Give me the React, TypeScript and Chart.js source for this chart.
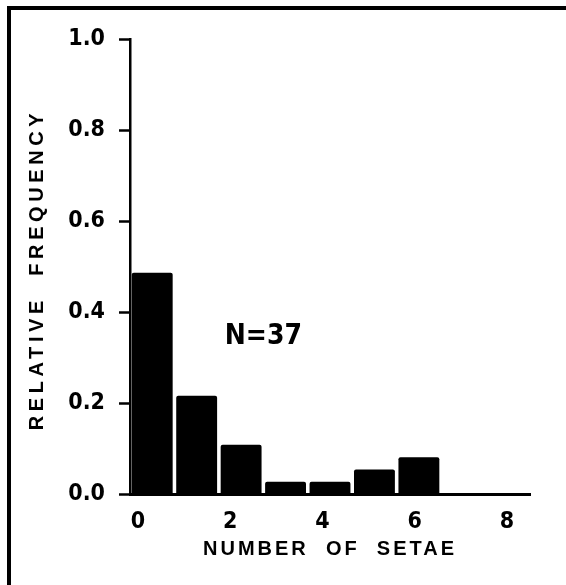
import React, { useEffect, useRef } from "react";
import { Chart, registerables } from "chart.js";

Chart.register(...registerables);

// ---- data ----
const categories = ["0", "1", "2", "3", "4", "5", "6", "7", "8"];
const relativeFrequency = [0.486, 0.216, 0.108, 0.027, 0.027, 0.054, 0.081, 0, 0];
const yTickValues = [0, 0.2, 0.4, 0.6, 0.8, 1.0];
const xTickLabels = [0, 2, 4, 6, 8];
const annotationText = "N=37";
const xTitle = "NUMBER  OF  SETAE";
const yTitle = "RELATIVE  FREQUENCY";

const NARROW = "'Liberation Sans Narrow', 'DejaVu Sans Condensed', 'Liberation Sans', Arial, sans-serif";
const WIDE = "'Liberation Sans', Arial, sans-serif";

const textPlugin = {
  id: "textPlugin",
  afterDraw(chart: any) {
    const { ctx, chartArea, scales } = chart;
    ctx.save();
    ctx.fillStyle = "#000";
    ctx.textAlign = "center";
    ctx.textBaseline = "middle";
    // x title
    ctx.font = `bold 20px ${WIDE}`;
    (ctx as any).letterSpacing = "3px";
    ctx.fillText(xTitle, (chartArea.left + chartArea.right) / 2, chartArea.bottom + 55);
    // annotation
    ctx.font = `bold 28px ${NARROW}`;
    (ctx as any).letterSpacing = "0px";
    ctx.fillText(annotationText, scales.x.getPixelForValue(2.5), scales.y.getPixelForValue(0.345));
    // y title
    ctx.font = `bold 20px ${WIDE}`;
    (ctx as any).letterSpacing = "4.6px";
    ctx.translate(37, (chartArea.top + chartArea.bottom) / 2 + 3);
    ctx.rotate(-Math.PI / 2);
    ctx.fillText(yTitle, 0, 0);
    ctx.restore();
  },
};

export default function App() {
  const canvasRef = useRef<HTMLCanvasElement | null>(null);

  useEffect(() => {
    const canvas = canvasRef.current;
    if (!canvas) return;
    const chart = new Chart(canvas, {
      type: "bar",
      data: {
        labels: categories,
        datasets: [
          {
            data: relativeFrequency,
            backgroundColor: "#000",
            borderWidth: 0,
            borderRadius: 2,
            barPercentage: 0.92,
            categoryPercentage: 1.0,
            xAxisID: "x",
          },
        ],
      },
      options: {
        responsive: false,
        animation: false,
        layout: { padding: { top: 39, right: 36, left: 0, bottom: 0 } },
        plugins: {
          legend: { display: false },
          tooltip: { enabled: false },
          title: { display: false },
        },
        scales: {
          x: {
            type: "category",
            display: false,
            offset: true,
          },
          xLabels: {
            type: "linear",
            position: "bottom",
            offset: false,
            min: -0.173,
            max: 8.497,
            grid: { display: false, drawTicks: false, offset: false },
            border: { display: true, color: "#000", width: 3 },
            afterBuildTicks: (scale: any) => {
              scale.ticks = xTickLabels.map((v) => ({ value: v }));
            },
            afterFit: (scale: any) => {
              scale.height = 91;
            },
            ticks: {
              color: "#000",
              padding: 14,
              autoSkip: false,
              maxRotation: 0,
              font: { family: NARROW, size: 23, weight: "bold" },
              callback: (v: any) => String(v),
            },
          },
          y: {
            type: "linear",
            min: 0,
            max: 1,
            afterBuildTicks: (scale: any) => {
              scale.ticks = yTickValues.map((v) => ({ value: v }));
            },
            afterFit: (scale: any) => {
              scale.width = 130;
            },
            grid: {
              drawOnChartArea: false,
              drawTicks: true,
              tickLength: 11,
              tickWidth: 2.5,
              color: "#000",
            },
            border: { display: true, color: "#000", width: 2.5 },
            ticks: {
              color: "#000",
              padding: 14,
              font: { family: NARROW, size: 23, weight: "bold" },
              callback: (v: any) => Number(v).toFixed(1),
            },
          },
        },
      },
      plugins: [textPlugin],
    } as any);
    return () => chart.destroy();
  }, []);

  return (
    <div style={{ position: "fixed", left: 0, top: 0, width: 566, height: 585, background: "#fff" }}>
      <div
        style={{
          position: "absolute",
          left: 7,
          top: 6,
          right: 0,
          bottom: 0,
          borderLeft: "4px solid #000",
          borderTop: "4px solid #000",
        }}
      />
      <canvas
        ref={canvasRef}
        width={566}
        height={585}
        style={{ position: "absolute", left: 0, top: 0, width: 566, height: 585 }}
      />
    </div>
  );
}
